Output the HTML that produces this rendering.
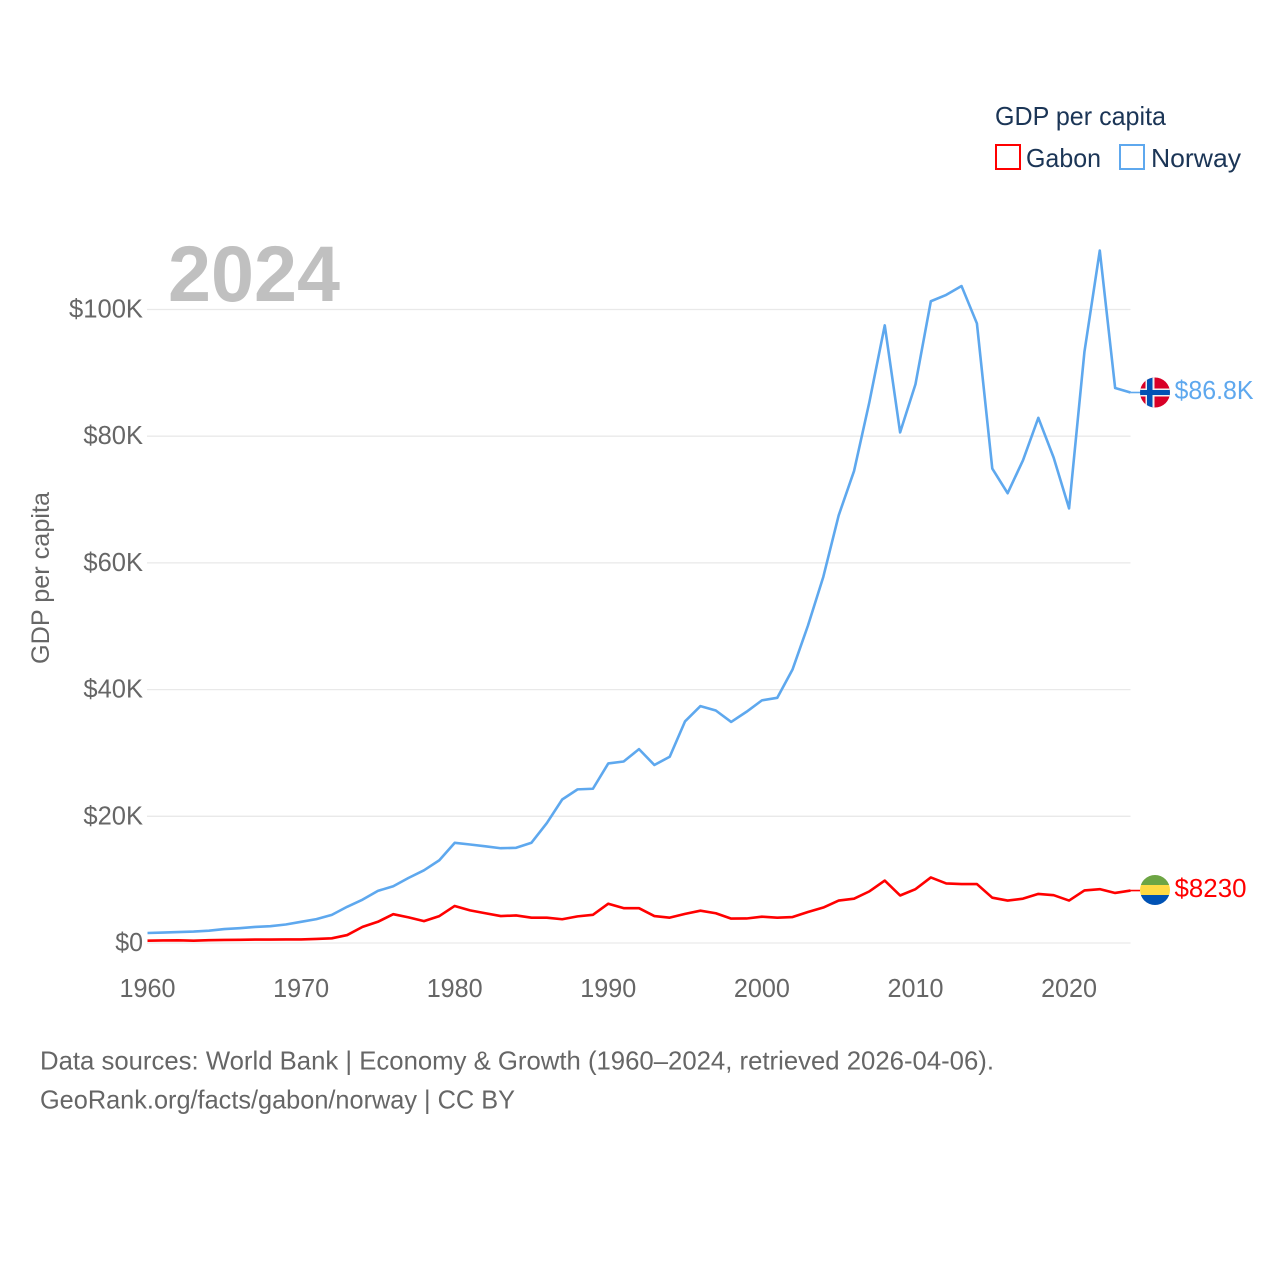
<!DOCTYPE html>
<html lang="en">
<head>
<meta charset="utf-8">
<title>GDP per capita: Gabon and Norway</title>
<style>
html,body{margin:0;padding:0;background:#fff;}
svg{display:block;font-family:"Liberation Sans",sans-serif;}
</style>
</head>
<body>
<svg id="chart" xmlns="http://www.w3.org/2000/svg" width="1280" height="1280" viewBox="0 0 1280 1280">
  <rect x="0" y="0" width="1280" height="1280" fill="#ffffff"/>
  <g id="grid"></g>
  <g id="yticks"></g>
  <g id="xticks"></g>
  <text x="168" y="301" font-size="79" font-weight="700" fill="#c0c0c0" textLength="172" lengthAdjust="spacingAndGlyphs">2024</text>
  <text transform="translate(49,664) rotate(-90)" font-size="25" fill="#666666" textLength="172" lengthAdjust="spacingAndGlyphs">GDP per capita</text>

  <path id="line-norway" fill="none" stroke="#5ea8ee" stroke-width="2.6" stroke-linejoin="round"/>
  <path id="line-gabon" fill="none" stroke="#ff0000" stroke-width="2.6" stroke-linejoin="round"/>
  <path id="connector-norway" fill="none" stroke="#5ea8ee" stroke-width="1.6"/>
  <path id="connector-gabon" fill="none" stroke="#ff0000" stroke-width="1.6"/>

  <defs>
    <clipPath id="clip-no"><circle cx="1155" cy="392.5" r="15"/></clipPath>
    <clipPath id="clip-ga"><circle cx="1155" cy="890" r="15"/></clipPath>
  </defs>
  <g clip-path="url(#clip-no)">
    <rect x="1140" y="377" width="30" height="31" fill="#d80027"/>
    <rect x="1140" y="388.5" width="30" height="8" fill="#f0f0f0"/>
    <rect x="1145.5" y="377" width="9" height="31" fill="#f0f0f0"/>
    <rect x="1140" y="390" width="30" height="5" fill="#0052b4"/>
    <rect x="1147" y="377" width="5.5" height="31" fill="#0052b4"/>
  </g>
  <g clip-path="url(#clip-ga)">
    <rect x="1140" y="875" width="30" height="10" fill="#6da544"/>
    <rect x="1140" y="885" width="30" height="10" fill="#ffda44"/>
    <rect x="1140" y="895" width="30" height="10" fill="#0052b4"/>
  </g>
  <text id="end-label-norway" x="1174.5" y="399" font-size="26" fill="#5ea8ee" textLength="79" lengthAdjust="spacingAndGlyphs">$86.8K</text>
  <text id="end-label-gabon" x="1174.5" y="897" font-size="26" fill="#ff0000" textLength="72" lengthAdjust="spacingAndGlyphs">$8230</text>

  <g>
    <text x="995" y="125" font-size="26" fill="#1b3556" textLength="171" lengthAdjust="spacingAndGlyphs">GDP per capita</text>
    <rect x="996" y="145" width="24" height="24" fill="none" stroke="#ff0000" stroke-width="2"/>
    <text x="1026" y="167" font-size="26" fill="#1b3556" textLength="75" lengthAdjust="spacingAndGlyphs">Gabon</text>
    <rect x="1120" y="145" width="24" height="24" fill="none" stroke="#5ea8ee" stroke-width="2"/>
    <text x="1151" y="167" font-size="26" fill="#1b3556" textLength="90" lengthAdjust="spacingAndGlyphs">Norway</text>
  </g>

  <text x="40" y="1069.5" font-size="26" fill="#666666" textLength="954" lengthAdjust="spacingAndGlyphs">Data sources: World Bank | Economy &amp; Growth (1960–2024, retrieved 2026-04-06).</text>
  <text x="40" y="1108.5" font-size="26" fill="#666666" textLength="475" lengthAdjust="spacingAndGlyphs">GeoRank.org/facts/gabon/norway | CC BY</text>
</svg>
<script>
const startYear = 1960;
const yTickValues = [0, 20000, 40000, 60000, 80000, 100000];
const yTickLabels = ["$0", "$20K", "$40K", "$60K", "$80K", "$100K"];
const xTickYears = [1960, 1970, 1980, 1990, 2000, 2010, 2020];
const norwayValues = [1580,1640,1730,1800,1950,2200,2340,2530,2660,2920,3340,3770,4440,5720,6840,8230,8960,10280,11470,13060,15810,15550,15260,14960,15030,15830,18930,22650,24250,24350,28350,28650,30600,28100,29400,35000,37400,36700,34900,36500,38300,38700,43200,50100,57800,67500,74500,85400,97500,80600,88200,101300,102300,103700,97800,74900,71000,76200,82900,76600,68600,93300,109300,87600,86900];
const gabonValues = [370,400,420,360,450,480,510,540,540,570,560,640,740,1250,2550,3350,4550,4050,3450,4250,5850,5150,4700,4250,4350,4000,4000,3750,4200,4450,6200,5500,5500,4250,4000,4600,5100,4700,3850,3870,4150,4000,4100,4900,5600,6700,7000,8150,9850,7500,8500,10350,9400,9300,9300,7150,6700,7000,7750,7550,6700,8300,8500,7900,8280];

function xScale(year) { return 147.5 + (year - startYear) * (983 / 64); }
function yScale(value) { return 943 - value * (633.5 / 100000); }

function svgEl(tag) { return document.createElementNS("http://www.w3.org/2000/svg", tag); }

function linePath(values) {
  return values.map(function (v, i) {
    return (i === 0 ? "M" : "L") + xScale(startYear + i).toFixed(2) + " " + yScale(v).toFixed(2);
  }).join(" ");
}

const gridGroup = document.getElementById("grid");
const yGroup = document.getElementById("yticks");
const xGroup = document.getElementById("xticks");

yTickValues.forEach(function (v, i) {
  const gridLine = svgEl("line");
  gridLine.setAttribute("x1", xScale(startYear) - 0.5);
  gridLine.setAttribute("x2", xScale(2024));
  gridLine.setAttribute("y1", yScale(v));
  gridLine.setAttribute("y2", yScale(v));
  gridLine.setAttribute("stroke", "#e9e9e9");
  gridLine.setAttribute("stroke-width", "1.3");
  
  
  gridGroup.appendChild(gridLine);

  const label = svgEl("text");
  const chars = yTickLabels[i].length;
  label.textContent = yTickLabels[i];
  label.setAttribute("x", 143);
  label.setAttribute("y", yScale(v) + 8);
  label.setAttribute("text-anchor", "end");
  label.setAttribute("font-size", "25.5");
  label.setAttribute("fill", "#666666");
  label.setAttribute("textLength", String(chars * 14.4 + (chars > 2 ? 2 : -1)));
  label.setAttribute("lengthAdjust", "spacingAndGlyphs");
  
  
  yGroup.appendChild(label);
});

xTickYears.forEach(function (year) {
  const label = svgEl("text");
  label.textContent = String(year);
  label.setAttribute("x", xScale(year));
  label.setAttribute("y", 997);
  label.setAttribute("text-anchor", "middle");
  label.setAttribute("font-size", "25.5");
  label.setAttribute("fill", "#666666");
  label.setAttribute("textLength", "56");
  label.setAttribute("lengthAdjust", "spacingAndGlyphs");
  
  
  xGroup.appendChild(label);
});

document.getElementById("line-norway").setAttribute("d", linePath(norwayValues));
document.getElementById("line-gabon").setAttribute("d", linePath(gabonValues));

const norwayEnd = yScale(norwayValues[norwayValues.length - 1]);
const gabonEnd = yScale(gabonValues[gabonValues.length - 1]);
document.getElementById("connector-norway").setAttribute("d", "M" + xScale(2024) + " " + norwayEnd + " L1140 " + norwayEnd);
document.getElementById("connector-gabon").setAttribute("d", "M" + xScale(2024) + " " + gabonEnd + " L1140 " + gabonEnd);
</script>
</body>
</html>
